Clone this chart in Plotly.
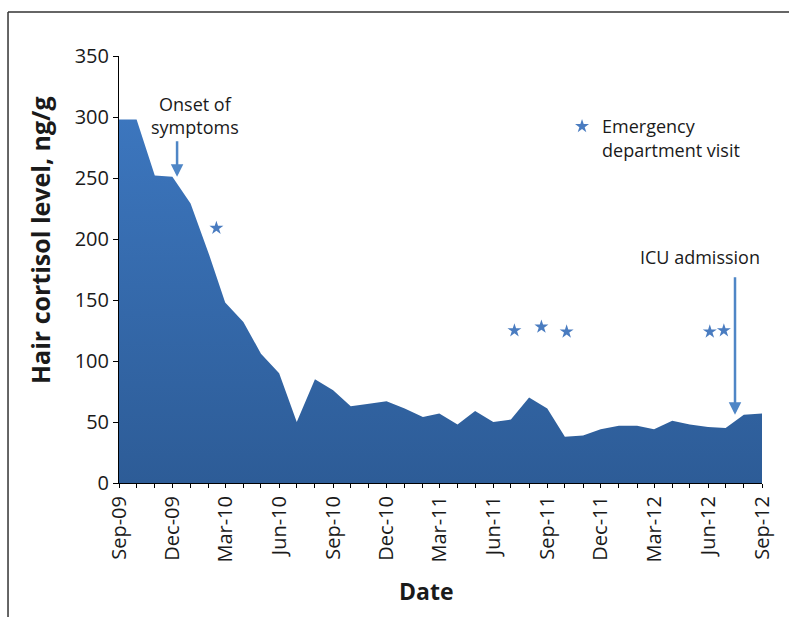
import plotly.graph_objects as go

# ---- data ----
months = [
    "2009-09-01", "2009-10-01", "2009-11-01", "2009-12-01", "2010-01-01", "2010-02-01",
    "2010-03-01", "2010-04-01", "2010-05-01", "2010-06-01", "2010-07-01", "2010-08-01",
    "2010-09-01", "2010-10-01", "2010-11-01", "2010-12-01", "2011-01-01", "2011-02-01",
    "2011-03-01", "2011-04-01", "2011-05-01", "2011-06-01", "2011-07-01", "2011-08-01",
    "2011-09-01", "2011-10-01", "2011-11-01", "2011-12-01", "2012-01-01", "2012-02-01",
    "2012-03-01", "2012-04-01", "2012-05-01", "2012-06-01", "2012-07-01", "2012-08-01",
    "2012-09-01",
]
cortisol = [298, 298, 252, 251, 229, 188, 148, 132, 106, 90, 50, 85, 76, 63, 65, 67,
            61, 54, 57, 48, 59, 50, 52, 70, 61, 38, 39, 44, 47, 47, 44, 51, 48, 46,
            45, 56, 57]

ed_dates = ["2010-02-14", "2011-07-07", "2011-08-22", "2011-10-04", "2012-06-04", "2012-06-28"]
ed_values = [209, 125, 128, 124, 124, 125]

onset_date, onset_value = "2009-12-09", 251
icu_date, icu_value = "2012-07-17", 56

FONT = "Open Sans"
TXT = "#1a1a1a"
STAR = "#4a7cc0"
ARROW = "#4f86c6"

fig = go.Figure()

fig.add_trace(go.Scatter(
    x=months, y=cortisol, mode="lines", fill="tozeroy",
    line=dict(width=0, color="#3568ab"),
    fillgradient=dict(type="vertical", start=0, stop=300,
                      colorscale=[[0, "#2d5c97"], [1, "#3c76be"]]),
    showlegend=False, hoverinfo="x+y",
))

fig.add_trace(go.Scatter(
    x=ed_dates, y=ed_values, mode="markers",
    marker=dict(symbol="star", size=10.5, color=STAR, line=dict(width=0)),
    name="Emergency<br>department visit", showlegend=True,
))

fig.update_layout(
    width=789, height=617,
    margin=dict(l=119, r=27, t=56, b=134),
    paper_bgcolor="white", plot_bgcolor="white",
    font=dict(family=FONT, color=TXT, size=18),
    legend=dict(x=0.689, y=0.878, xanchor="left", yanchor="top",
                bgcolor="rgba(0,0,0,0)", font=dict(size=18, color=TXT),
                valign="top", itemwidth=30),
    xaxis=dict(
        type="date", range=["2009-09-01", "2012-09-01"],
        tick0="2009-09-01", dtick="M3", tickformat="%b-%y", tickangle=-90,
        ticks="outside", ticklen=4, tickcolor="black",
        minor=dict(dtick="M1", ticks="outside", ticklen=4, tickcolor="black", showgrid=False),
        showline=True, linecolor="black", linewidth=1,
        showgrid=False, zeroline=False,
        tickfont=dict(size=20, color=TXT),
    ),
    yaxis=dict(
        range=[0, 350], dtick=50, ticks="outside", ticklen=5, tickcolor="black",
        showline=True, linecolor="black", linewidth=1,
        showgrid=False, zeroline=False,
        tickfont=dict(size=20, color=TXT),
    ),
)

# axis titles
fig.add_annotation(xref="paper", yref="paper", x=-0.1229, y=0.569,
                   text="<b>Hair cortisol level, ng/g</b>", textangle=-90,
                   showarrow=False, font=dict(size=25, color=TXT),
                   xanchor="center", yanchor="middle")
fig.add_annotation(xref="paper", yref="paper", x=0.479, y=-0.2529,
                   text="<b>Date</b>", showarrow=False,
                   font=dict(size=23, color=TXT), xanchor="center", yanchor="middle")

# onset annotation
fig.add_annotation(x="2010-01-09", y=301.6, text="Onset of<br>symptoms",
                   showarrow=False, font=dict(size=18, color=TXT),
                   xanchor="center", yanchor="middle")
fig.add_annotation(x=onset_date, y=onset_value, text="", showarrow=True,
                   ax=0, ay=-37, arrowhead=2, arrowsize=1, arrowwidth=2.5,
                   arrowcolor=ARROW)

# ICU annotation
fig.add_annotation(x="2012-05-19", y=185, text="ICU admission",
                   showarrow=False, font=dict(size=18, color=TXT),
                   xanchor="center", yanchor="middle")
fig.add_annotation(x=icu_date, y=icu_value, text="", showarrow=True,
                   ax=0, ay=-139, arrowhead=2, arrowsize=1, arrowwidth=2.5,
                   arrowcolor=ARROW)

# outer frame: only left and top edges are visible in the source
frame = dict(color="#333333", width=1.5)
fig.add_shape(type="line", xref="paper", yref="paper",
              x0=-0.1726, x1=-0.1726, y0=-0.36, y1=1.103, line=frame, layer="below")
fig.add_shape(type="line", xref="paper", yref="paper",
              x0=-0.1726, x1=1.09, y0=1.103, y1=1.103, line=frame, layer="below")

fig.write_html(
    "out.html",
    config={"displayModeBar": False},
    post_script="document.body.style.margin='0';document.body.style.overflow='hidden';",
)
